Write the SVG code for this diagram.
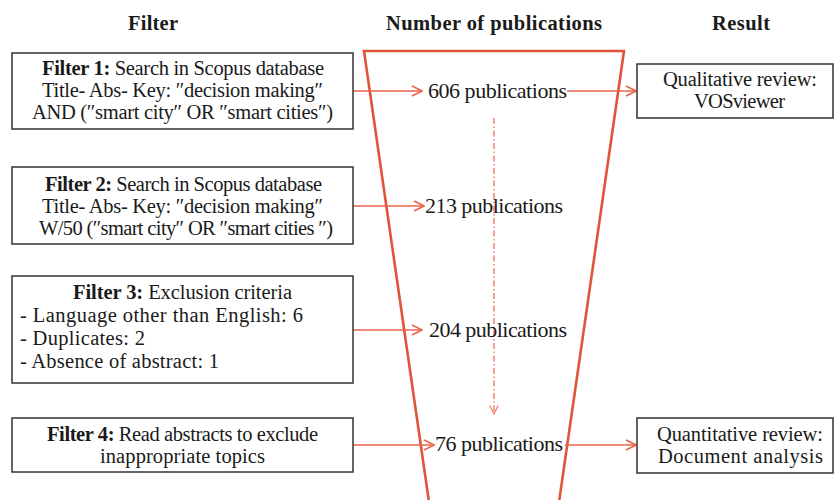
<svg xmlns="http://www.w3.org/2000/svg" width="834" height="500" viewBox="0 0 834 500">
<defs>
<style>
text{font-family:"Liberation Serif","DejaVu Serif",serif;fill:#1a1a1a;}
.hdr{font-size:20.5px;font-weight:bold;text-anchor:middle;}
.bx{fill:#fff;stroke:#333;stroke-width:1.5;}
.t{font-size:20.5px;}
.c{text-anchor:middle;}
.b{font-weight:bold;}
.pub{font-size:22px;}
.arr{fill:none;stroke:#e8664c;stroke-width:1.6;marker-end:url(#chev);}
.funnel{fill:none;stroke:#e0553a;stroke-width:2.6;stroke-linejoin:miter;}
.dd{fill:none;stroke:#f08a78;stroke-width:1.6;stroke-dasharray:6 2.5 1.5 2.5;marker-end:url(#chev2);}
</style>
<marker id="chev" viewBox="0 0 12 12" refX="11" refY="6" markerWidth="12" markerHeight="12" markerUnits="userSpaceOnUse" orient="auto">
<path d="M1,1 L11,6 L1,11" fill="none" stroke="#e8664c" stroke-width="1.6"/>
</marker>
<marker id="chev2" viewBox="0 0 12 12" refX="11" refY="6" markerWidth="10" markerHeight="10" markerUnits="userSpaceOnUse" orient="auto">
<path d="M1,1 L11,6 L1,11" fill="none" stroke="#f08a78" stroke-width="1.6"/>
</marker>
</defs>
<rect width="834" height="500" fill="#fff"/>

<g id="headers">
<text class="hdr" x="153" y="30" textLength="50">Filter</text>
<text class="hdr" x="494" y="30" textLength="216">Number of publications</text>
<text class="hdr" x="741" y="30" textLength="58">Result</text>
</g>

<g id="funnel">
<path class="funnel" d="M429,502 L364,51 L624,51 L559,502"/>
</g>

<g id="connectors">
<line class="dd" x1="494" y1="118" x2="494" y2="414"/>
<line class="arr" x1="353" y1="91" x2="422" y2="91"/>
<line class="arr" x1="567" y1="91" x2="636" y2="91"/>
<line class="arr" x1="353" y1="206" x2="424" y2="206"/>
<line class="arr" x1="353" y1="330" x2="422" y2="330"/>
<line class="arr" x1="353" y1="445" x2="434" y2="445"/>
<line class="arr" x1="565" y1="445" x2="636" y2="445"/>
</g>

<g id="filter1">
<rect class="bx" x="12" y="53" width="341" height="76"/>
<text class="t c" x="183" y="75" textLength="282"><tspan class="b">Filter 1:</tspan>  Search in Scopus database</text>
<text class="t c" x="182.5" y="97" textLength="281">Title- Abs- Key: ″decision making″</text>
<text class="t c" x="182.5" y="119" textLength="301">AND (″smart city″ OR ″smart cities″)</text>
</g>

<g id="filter2">
<rect class="bx" x="12" y="167" width="341" height="77"/>
<text class="t c" x="183.5" y="191" textLength="277"><tspan class="b">Filter 2:</tspan> Search in Scopus database</text>
<text class="t c" x="182.5" y="213" textLength="281">Title- Abs- Key: ″decision making″</text>
<text class="t c" x="186" y="235" textLength="294">W/50 (″smart city″ OR ″smart cities ″)</text>
</g>

<g id="filter3">
<rect class="bx" x="12" y="276" width="341" height="107"/>
<text class="t c" x="182.5" y="299" textLength="219"><tspan class="b">Filter 3:</tspan> Exclusion criteria</text>
<text class="t" x="20" y="322" textLength="283">- Language other than English: 6</text>
<text class="t" x="20" y="345" textLength="125">- Duplicates: 2</text>
<text class="t" x="20" y="368" textLength="199">- Absence of abstract: 1</text>
</g>

<g id="filter4">
<rect class="bx" x="12" y="418" width="341" height="54"/>
<text class="t c" x="182.5" y="441" textLength="271"><tspan class="b">Filter 4:</tspan> Read abstracts to exclude</text>
<text class="t c" x="182.5" y="463" textLength="165">inappropriate topics</text>
</g>

<g id="pub606"><text class="pub" x="428" y="98" textLength="139">606 publications</text></g>
<g id="pub213"><text class="pub" x="425" y="213" textLength="138">213 publications</text></g>
<g id="pub204"><text class="pub" x="429" y="337" textLength="138">204 publications</text></g>
<g id="pub76"><text class="pub" x="435" y="451" textLength="128">76 publications</text></g>

<g id="result1">
<rect class="bx" x="637" y="64" width="196" height="54"/>
<text class="t c" x="740" y="86" textLength="154">Qualitative review:</text>
<text class="t c" x="739.5" y="108" textLength="91">VOSviewer</text>
</g>

<g id="result2">
<rect class="bx" x="637" y="418" width="196" height="55"/>
<text class="t c" x="740" y="441" textLength="166">Quantitative review:</text>
<text class="t c" x="740.5" y="463" textLength="165">Document analysis</text>
</g>
</svg>
